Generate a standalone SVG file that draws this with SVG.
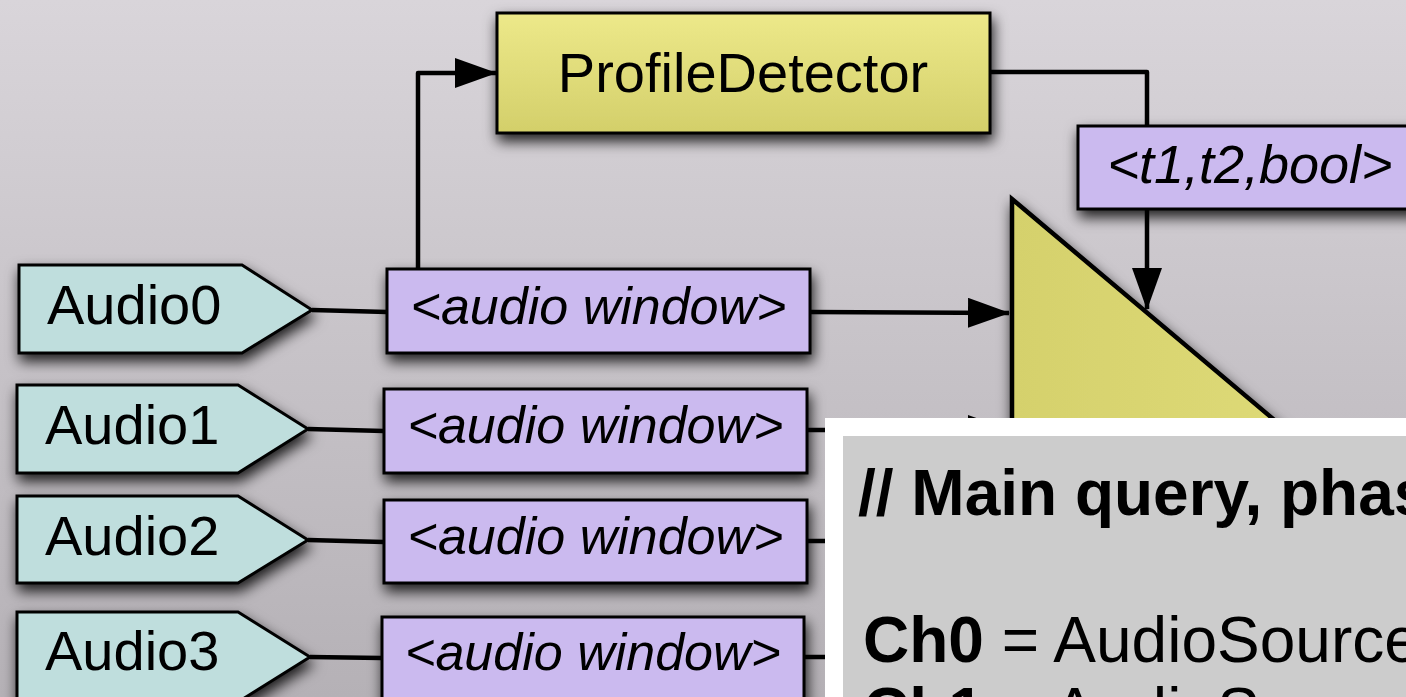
<svg xmlns="http://www.w3.org/2000/svg" width="1406" height="697" viewBox="0 0 1406 697">
  <defs>
    <linearGradient id="bg" x1="0" y1="0" x2="0" y2="1">
      <stop offset="0" stop-color="#d9d5da"/>
      <stop offset="1" stop-color="#b5b1b6"/>
    </linearGradient>
    <linearGradient id="yellow" x1="0" y1="0" x2="0" y2="1">
      <stop offset="0" stop-color="#ede98a"/>
      <stop offset="1" stop-color="#d3cf6a"/>
    </linearGradient>
    <linearGradient id="tri" x1="0" y1="0" x2="1" y2="0">
      <stop offset="0" stop-color="#d5d16c"/>
      <stop offset="1" stop-color="#e2de7c"/>
    </linearGradient>
    <filter id="shadow" x="-20%" y="-30%" width="140%" height="180%">
      <feDropShadow dx="2" dy="7" stdDeviation="7" flood-color="#000" flood-opacity="0.85"/>
    </filter>
    <marker id="arrow" markerUnits="userSpaceOnUse" markerWidth="42" markerHeight="30" refX="41" refY="15" orient="auto">
      <path d="M0,0 L42,15 L0,30 z" fill="#000"/>
    </marker>
    <style>
      .source { fill: #bfdedd; stroke: #000; stroke-width: 3; }
      .stream { fill: #cbbaef; stroke: #000; stroke-width: 3; }
      .op { fill: url(#yellow); stroke: #000; stroke-width: 3; }
      .edge { fill: none; stroke: #000; stroke-width: 4.5; stroke-linejoin: round; }
      .label { font-family: "Liberation Sans", Arial, sans-serif; fill: #000; }
      .src-text { font-size: 56px; }
      .stream-text { font-size: 52px; font-style: italic; text-anchor: middle; }
      .code { font-family: "Liberation Sans", Arial, sans-serif; font-size: 64px; fill: #000; }
    </style>
  </defs>

  <rect x="0" y="0" width="1406" height="697" fill="url(#bg)"/>

  <!-- connectors -->
  <g id="connectors">
    <path class="edge" d="M312,310 L387,312"/>
    <path class="edge" d="M308,429 L384,431"/>
    <path class="edge" d="M308,540 L384,542"/>
    <path class="edge" d="M310,657 L382,658"/>
    <path class="edge" d="M810,312 L1009,313" marker-end="url(#arrow)"/>
    <path class="edge" d="M807,430 L1009,430" marker-end="url(#arrow)"/>
    <path class="edge" d="M807,541 L1009,541" marker-end="url(#arrow)"/>
    <path class="edge" d="M804,657 L1009,657" marker-end="url(#arrow)"/>
    <path class="edge" d="M418,270 L418,73 L496,73" marker-end="url(#arrow)"/>
    <path class="edge" d="M990,72 L1147,72 L1147,127"/>
    <path class="edge" d="M1147,209 L1147,309" marker-end="url(#arrow)"/>
  </g>

  <!-- profile detector operator -->
  <g id="profile-detector" filter="url(#shadow)">
    <rect class="op" x="497" y="13" width="493" height="120"/>
    <text class="label" x="743" y="92" font-size="56" text-anchor="middle">ProfileDetector</text>
  </g>

  <!-- detector output stream -->
  <g id="detector-out" filter="url(#shadow)">
    <rect class="stream" x="1078" y="126" width="350" height="83"/>
    <text class="label" x="1250" y="183" font-size="54" font-style="italic" text-anchor="middle">&lt;t1,t2,bool&gt;</text>
  </g>

  <!-- merge operator -->
  <g id="merge" filter="url(#shadow)">
    <polygon points="1012,199 1425,547 1012,895" fill="url(#tri)" stroke="#000" stroke-width="4.5" stroke-linejoin="miter"/>
  </g>

  <!-- audio sources -->
  <g id="audio0" filter="url(#shadow)">
    <polygon class="source" points="19,265 242,265 312,310 242,353 19,353"/>
    <text class="label src-text" x="47" y="324">Audio0</text>
  </g>
  <g id="audio1" filter="url(#shadow)">
    <polygon class="source" points="17,385 238,385 308,429 238,473 17,473"/>
    <text class="label src-text" x="45" y="444">Audio1</text>
  </g>
  <g id="audio2" filter="url(#shadow)">
    <polygon class="source" points="17,496 238,496 308,540 238,583 17,583"/>
    <text class="label src-text" x="45" y="555">Audio2</text>
  </g>
  <g id="audio3" filter="url(#shadow)">
    <polygon class="source" points="17,612 238,612 310,657 238,702 17,702"/>
    <text class="label src-text" x="45" y="670">Audio3</text>
  </g>

  <!-- audio window streams -->
  <g id="window0" filter="url(#shadow)">
    <rect class="stream" x="387" y="269" width="423" height="84"/>
    <text class="label stream-text" x="598.5" y="324">&lt;audio window&gt;</text>
  </g>
  <g id="window1" filter="url(#shadow)">
    <rect class="stream" x="384" y="389" width="423" height="84"/>
    <text class="label stream-text" x="595.5" y="443">&lt;audio window&gt;</text>
  </g>
  <g id="window2" filter="url(#shadow)">
    <rect class="stream" x="384" y="500" width="423" height="83"/>
    <text class="label stream-text" x="595.5" y="554">&lt;audio window&gt;</text>
  </g>
  <g id="window3" filter="url(#shadow)">
    <rect class="stream" x="382" y="617" width="422" height="90"/>
    <text class="label stream-text" x="593" y="670">&lt;audio window&gt;</text>
  </g>

  <!-- query code panel -->
  <g id="code-panel">
    <rect x="825" y="418" width="600" height="300" fill="#ffffff"/>
    <rect x="843" y="436" width="580" height="280" fill="#cccccc"/>
    <text class="code" x="858" y="515" font-weight="bold">// Main query, phas</text>
    <text class="code" x="863" y="662"><tspan font-weight="bold">Ch0</tspan> = AudioSource</text>
    <text class="code" x="863" y="733"><tspan font-weight="bold">Ch1</tspan> = AudioSource</text>
  </g>
</svg>
